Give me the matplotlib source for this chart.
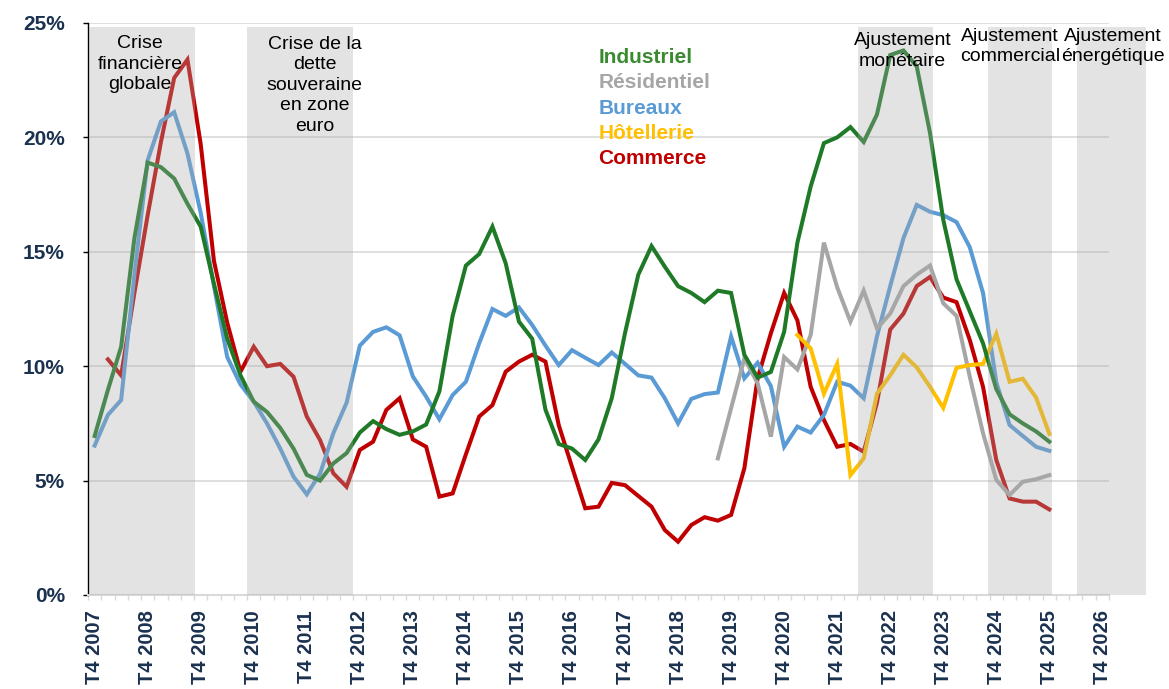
import numpy as np
import matplotlib.pyplot as plt

nan = np.nan

# trimestres T4 2007 .. T4 2026
year_labels = ['T4 %d' % y for y in range(2007, 2027)]

industriel = [6.95, 8.96, 10.85, 15.6, 18.9, 18.7, 18.2, 17.1, 16.1, 13.6,
              11.2, 9.6, 8.45, 8.0, 7.3, 6.4, 5.25, 5.0, 5.75, 6.2,
              7.1, 7.6, 7.25, 7.0, 7.15, 7.45, 8.9, 12.2, 14.4, 14.9,
              16.1, 14.5, 11.95, 11.2, 8.1, 6.6, 6.4, 5.9, 6.8, 8.6,
              11.45, 14.0, 15.25, 14.35, 13.5, 13.2, 12.8, 13.3, 13.2, 10.5,
              9.5, 9.75, 11.5, 15.4, 17.85, 19.75, 20.0, 20.45, 19.8, 21.0,
              23.6, 23.8, 23.1, 20.2, 16.4, 13.8, 12.4, 11.0, 9.0, 7.9,
              7.5, 7.15, 6.7]

bureaux = [6.53, 7.87, 8.52, 14.0, 19.0, 20.7, 21.1, 19.3, 16.7, 13.5,
           10.4, 9.2, 8.45, 7.5, 6.4, 5.17, 4.4, 5.3, 7.07, 8.4,
           10.9, 11.5, 11.7, 11.35, 9.55, 8.67, 7.68, 8.74, 9.32, 11.0,
           12.5, 12.2, 12.57, 11.8, 10.9, 10.05, 10.7, 10.37, 10.05, 10.6,
           10.1, 9.6, 9.5, 8.6, 7.5, 8.57, 8.78, 8.85, 11.3, 9.47,
           10.15, 9.13, 6.48, 7.36, 7.1, 7.87, 9.32, 9.15, 8.6, 11.3,
           13.5, 15.6, 17.05, 16.75, 16.6, 16.3, 15.2, 13.2, 9.3, 7.43,
           6.95, 6.48, 6.3]

commerce = [nan, 10.3, 9.6, 13.2, 16.6, 19.8, 22.6, 23.4, 19.7, 14.6,
            11.9, 9.76, 10.85, 10.0, 10.1, 9.54, 7.8, 6.77, 5.32, 4.73,
            6.34, 6.7, 8.09, 8.6, 6.8, 6.48, 4.3, 4.44, 6.15, 7.8,
            8.3, 9.76, 10.2, 10.5, 10.2, 7.43, 5.6, 3.79, 3.86, 4.9,
            4.8, 4.33, 3.86, 2.84, 2.33, 3.06, 3.4, 3.25, 3.5, 5.54,
            9.47, 11.44, 13.2, 12.0, 9.1, 7.65, 6.48, 6.6, 6.26, 8.4,
            11.6, 12.3, 13.5, 13.9, 13.0, 12.8, 11.15, 9.1, 5.9, 4.22,
            4.08, 4.08, 3.74]

residentiel = [nan] * 47 + [5.97, 8.16, 10.35, 9.25, 6.92, 10.4, 9.86, 11.36, 15.4,
                            13.45, 11.95, 13.3, 11.65, 12.3, 13.5, 14.0, 14.4, 12.75,
                            12.2, 9.54, 7.07, 5.03, 4.37, 4.95, 5.06, 5.24]

hotellerie = [nan] * 53 + [11.36, 10.78, 8.8, 10.1, 5.24, 5.97, 8.8, 9.6, 10.5,
                           9.95, 9.1, 8.18, 9.93, 10.05, 10.1, 11.42, 9.32, 9.45,
                           8.63, 7.04]

# periodes grisees (en position de trimestre)
periods = [(-0.45, 7.6), (11.5, 19.5), (57.55, 63.2), (67.4, 72.2), (74.1, 79.3)]
period_names = ['Crise\nfinancière\nglobale', 'Crise de la\ndette\nsouveraine\nen zone\neuro',
                'Ajustement\nmonétaire', 'Ajustement\ncommercial', 'Ajustement\nénergétique']
name_pos = [(3.43, 23.19), (16.58, 22.27), (60.93, 23.78), (69.03, 23.97), (76.79, 23.97)]

series = ['Industriel', 'Résidentiel', 'Bureaux', 'Hôtellerie', 'Commerce']
colors = ['#1F7A28', '#A6A6A6', '#5B9BD5', '#FFC000', '#C00000']
text_colors = ['#3A8A30', '#A6A6A6', '#5B9BD5', '#FFC000', '#C00000']

navy = '#1B3150'
plt.rcParams['font.family'] = ['Liberation Sans', 'DejaVu Sans']

fig = plt.figure(figsize=(11.69, 6.89), dpi=100)
ax = fig.add_axes([88 / 1169, 1 - 595 / 689, (1109 - 88) / 1169, (595 - 23) / 689])

x = np.arange(len(industriel))
data = {'Industriel': industriel, 'Résidentiel': residentiel, 'Bureaux': bureaux,
        'Hôtellerie': hotellerie, 'Commerce': commerce}
order = ['Commerce', 'Bureaux', 'Résidentiel', 'Hôtellerie', 'Industriel']
for name in order:
    c = colors[series.index(name)]
    ax.plot(x, data[name], color=c, lw=2.9, zorder=3, solid_joinstyle='miter')

# le gris passe par-dessus les courbes, comme dans l'original
for (a, b) in periods:
    ax.axvspan(a, b, ymin=0, ymax=0.993, color='#AAAAAA', alpha=0.33, lw=0, zorder=4, clip_on=False)

for t, (px, py) in zip(period_names, name_pos):
    ax.text(px, py, t, ha='center', va='center', fontsize=14, color='black',
            linespacing=1.27, zorder=6, clip_on=False)

base = [23.27, 22.16, 21.04, 19.93, 18.82]
for s, c, yb in zip(series, text_colors, base):
    ax.text(37.98, yb, s, ha='left', va='baseline', fontsize=15, fontweight='bold', color=c, zorder=6)

ax.set_xlim(-0.5, 76.5)
ax.set_ylim(0, 25)
ax.set_yticks(range(0, 26, 5))
ax.set_yticklabels(['%d%%' % v for v in range(0, 26, 5)])
ax.set_xticks(range(0, 77, 4))
ax.set_xticklabels(year_labels, rotation=90)
ax.set_xticks(np.arange(-0.5, 77, 1), minor=True)

ax.tick_params(axis='x', which='major', length=0, pad=11, labelsize=14.5, labelcolor=navy)
ax.tick_params(axis='x', which='minor', length=3.6, width=1, color='#D9D9D9', direction='out')
ax.tick_params(axis='y', length=3.6, width=1, color='black', pad=13, labelsize=15, labelcolor=navy)
for lab in ax.get_xticklabels() + ax.get_yticklabels():
    lab.set_fontweight('bold')

ax.grid(axis='y', color='#D9D9D9', lw=1.2, zorder=0)
ax.set_axisbelow(True)
ax.spines['top'].set_visible(False)
ax.spines['right'].set_visible(False)
ax.spines['bottom'].set_color('#D9D9D9')
ax.spines['bottom'].set_linewidth(1.5)
ax.spines['left'].set_color('black')
ax.spines['left'].set_linewidth(1)

fig.savefig('out.png', dpi=100)
